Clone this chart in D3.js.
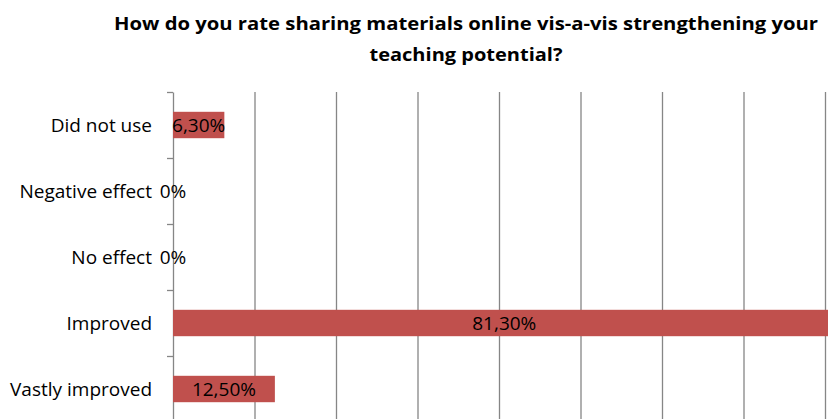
<!DOCTYPE html>
<html>
<head>
<meta charset="utf-8">
<script src="https://cdn.jsdelivr.net/npm/d3@7"></script>
<style>
  body { margin: 0; background: #fff; }
  svg { display: block; font-family: "Open Sans", Lato, sans-serif; }
</style>
</head>
<body>
<div id="vis"></div>
<script>
// constants for frame
const FRAME_WIDTH = 828;
const FRAME_HEIGHT = 419;
const MARGINS = {left: 173, top: 92};

// dataset
const categories = ["Did not use", "Negative effect", "No effect", "Improved", "Vastly improved"];
const values = [6.3, 0, 0, 81.3, 12.5];
const valueLabels = ["6,30%", "0%", "0%", "81,30%", "12,50%"];
const gridTicks = [0, 10, 20, 30, 40, 50, 60, 70, 80, 90, 100];
const titleLines = ["How do you rate  sharing materials online  vis-a-vis strengthening your",
                    "teaching potential?"];

const BAND = 66;
const VIS_HEIGHT = BAND * categories.length;

const FRAME =
  d3.select("#vis")
    .append("svg")
      .attr("width", FRAME_WIDTH)
      .attr("height", FRAME_HEIGHT);

// scales
const X_SCALE = d3.scaleLinear()
  .domain([0, 100])
  .range([MARGINS.left, MARGINS.left + 815]);

const Y_SCALE = d3.scaleBand()
  .domain(categories)
  .range([MARGINS.top, MARGINS.top + VIS_HEIGHT])
  .paddingInner(0.6)
  .paddingOuter(0.3);

// band edges for the left axis ticks
const EDGE_SCALE = d3.scaleLinear()
  .domain([0, categories.length])
  .range([MARGINS.top, MARGINS.top + VIS_HEIGHT]);

// title
FRAME.selectAll(".title")
  .data(titleLines)
  .enter()
  .append("text")
    .attr("x", 466)
    .attr("y", (d, i) => 30 + i * 31)
    .attr("text-anchor", "middle")
    .attr("font-weight", "bold")
    .attr("font-size", "18px")
    .attr("textLength", (d, i) => i === 0 ? 704 : 193)
    .attr("lengthAdjust", "spacingAndGlyphs")
    .attr("fill", "#000")
    .text(d => d);

// vertical gridlines
const grid = FRAME.append("g")
  .attr("transform", "translate(0," + MARGINS.top + ")")
  .call(d3.axisBottom(X_SCALE).tickValues(gridTicks.slice(1)).tickSize(VIS_HEIGHT).tickFormat(""));
grid.select(".domain").remove();
grid.selectAll("line").attr("stroke", "#868686").attr("stroke-width", 1.3);

// left axis
const yAxis = FRAME.append("g")
  .attr("transform", "translate(" + MARGINS.left + ",0)")
  .call(d3.axisLeft(EDGE_SCALE).ticks(categories.length).tickSize(6).tickSizeOuter(0).tickFormat(""));
yAxis.selectAll("line, path").attr("stroke", "#868686").attr("stroke-width", 1.3);

// bars
FRAME.selectAll(".bar")
  .data(values)
  .enter()
  .append("rect")
    .attr("x", X_SCALE(0))
    .attr("y", (d, i) => Y_SCALE(categories[i]))
    .attr("width", d => X_SCALE(d) - X_SCALE(0))
    .attr("height", Y_SCALE.bandwidth())
    .attr("fill", "#C0504D");

// category labels
FRAME.selectAll(".cat")
  .data(categories)
  .enter()
  .append("text")
    .attr("x", MARGINS.left - 21)
    .attr("y", d => Y_SCALE(d) + Y_SCALE.bandwidth() / 2)
    .attr("dy", "0.35em")
    .attr("text-anchor", "end")
    .attr("font-size", "19px")
    .attr("fill", "#000")
    .text(d => d);

// value labels, centred on each bar
FRAME.selectAll(".val")
  .data(values)
  .enter()
  .append("text")
    .attr("x", d => (X_SCALE(d) + X_SCALE(0)) / 2)
    .attr("y", (d, i) => Y_SCALE(categories[i]) + Y_SCALE.bandwidth() / 2)
    .attr("dy", "0.35em")
    .attr("text-anchor", "middle")
    .attr("font-size", "19px")
    .attr("fill", "#000")
    .text((d, i) => valueLabels[i]);
</script>
</body>
</html>
